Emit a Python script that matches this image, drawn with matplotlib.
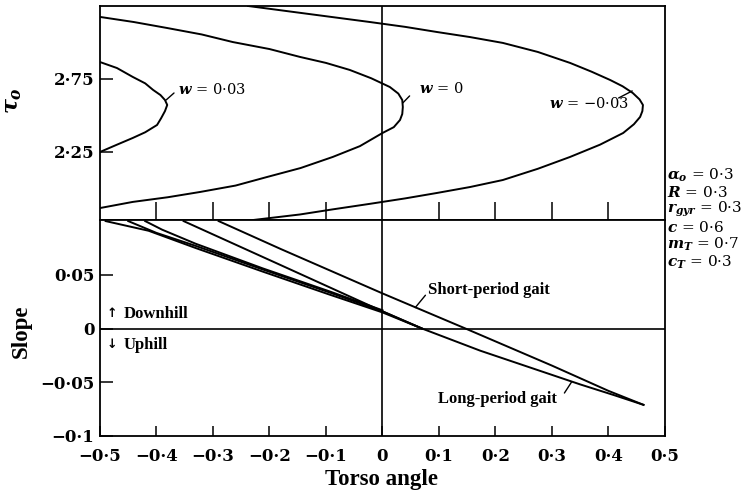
import numpy as np
import matplotlib
matplotlib.use("Agg")
import matplotlib.pyplot as plt

plt.rcParams["font.family"] = "Liberation Serif"
plt.rcParams["font.weight"] = "bold"
plt.rcParams["axes.labelweight"] = "bold"
plt.rcParams["mathtext.fontset"] = "dejavuserif"
plt.rcParams["axes.linewidth"] = 1.3

# ---- top panel: tau_o vs torso angle, one curve per w ----
w_pos_x = [-0.5, -0.47, -0.442, -0.42, -0.406, -0.393, -0.385, -0.381,
           -0.385, -0.392, -0.399, -0.42, -0.442, -0.47, -0.5]
w_pos_tau = [2.866, 2.825, 2.764, 2.72, 2.675, 2.64, 2.606, 2.572,
             2.53, 2.48, 2.435, 2.385, 2.346, 2.30, 2.25]

w_zero_x = [-0.5, -0.44, -0.381, -0.32, -0.265, -0.2, -0.146, -0.1, -0.058,
            -0.02, 0.013, 0.028, 0.035, 0.036, 0.035, 0.031, 0.02, 0.0,
            -0.04, -0.088, -0.145, -0.204, -0.26, -0.323, -0.38, -0.442, -0.5]
w_zero_tau = [3.175, 3.14, 3.099, 3.055, 3.003, 2.955, 2.901, 2.86, 2.812,
              2.755, 2.695, 2.65, 2.606, 2.558, 2.51, 2.469, 2.42, 2.380,
              2.29, 2.216, 2.14, 2.079, 2.02, 1.976, 1.94, 1.908, 1.866]

w_neg_x = [-0.238, -0.13, -0.022, 0.04, 0.096, 0.155, 0.213, 0.275, 0.332,
           0.37, 0.403, 0.425, 0.443, 0.455, 0.461, 0.46, 0.456, 0.445, 0.426,
           0.385, 0.332, 0.275, 0.213, 0.155, 0.096, 0.04, -0.022, -0.088,
           -0.146, -0.229]
w_neg_tau = [3.25, 3.195, 3.140, 3.107, 3.072, 3.037, 2.997, 2.935, 2.860,
             2.80, 2.743, 2.70, 2.654, 2.61, 2.572, 2.53, 2.490, 2.44, 2.380,
             2.30, 2.216, 2.135, 2.058, 2.01, 1.969, 1.932, 1.895, 1.857,
             1.822, 1.784]

# ---- bottom panel: slope vs torso angle ----
short_x = [-0.29, -0.18, 0.0, 0.147, 0.30, 0.40, 0.462]
short_s = [0.1, 0.074, 0.0327, 0.0, -0.0345, -0.058, -0.071]

long_x = [-0.352, -0.18, 0.0, 0.07, 0.173, 0.35, 0.41, 0.462]
long_s = [0.1, 0.059, 0.016, 0.0, -0.0206, -0.052, -0.062, -0.071]

band_a_x = [-0.49, -0.414, -0.331, -0.212, -0.096, 0.0, 0.07]
band_a_s = [0.1, 0.091, 0.075, 0.053, 0.032, 0.015, 0.0]
band_b_x = [-0.45, -0.40, -0.331, -0.212, -0.096, 0.0, 0.07]
band_b_s = [0.1, 0.089, 0.077, 0.055, 0.034, 0.016, 0.0]
band_c_x = [-0.42, -0.39, -0.331, -0.212, -0.096, 0.0]
band_c_s = [0.1, 0.092, 0.079, 0.056, 0.035, 0.017]

params = [r"$\alpha_o$ = 0·3", r"$R$ = 0·3", r"$r_{gyr}$ = 0·3",
          r"$c$ = 0·6", r"$m_T$ = 0·7", r"$c_T$ = 0·3"]

xticks = [-0.5, -0.4, -0.3, -0.2, -0.1, 0, 0.1, 0.2, 0.3, 0.4, 0.5]
xtick_labels = ["−0·5", "−0·4", "−0·3", "−0·2", "−0·1", "0",
                "0·1", "0·2", "0·3", "0·4", "0·5"]
tau_ticks = [2.25, 2.75]
tau_labels = ["2·25", "2·75"]
slope_ticks = [-0.1, -0.05, 0, 0.05]
slope_labels = ["−0·1", "−0·05", "0", "0·05"]

num_font = {"family": "DejaVu Serif", "weight": "bold", "size": 12}
note_font = {"family": "DejaVu Serif", "weight": "normal"}

fig = plt.figure(figsize=(7.53, 4.98), dpi=100)
ax1 = fig.add_axes([0.1328, 0.5582, 0.7503, 0.4298])
ax2 = fig.add_axes([0.1328, 0.1245, 0.7503, 0.4337])

lw = 1.4
for x, y in [(w_pos_x, w_pos_tau), (w_zero_x, w_zero_tau), (w_neg_x, w_neg_tau)]:
    ax1.plot(x, y, color="black", lw=lw)
ax1.axvline(0, color="black", lw=1.2)
ax1.set_xlim(-0.5, 0.5)
ax1.set_ylim(1.784, 3.25)
ax1.set_yticks(tau_ticks)
ax1.set_yticklabels(tau_labels, fontdict=num_font)
ax1.set_xticks([-0.4, -0.3, -0.2, -0.1, 0.1, 0.2, 0.3, 0.4])
ax1.tick_params(axis="x", direction="in", length=13, width=1.1, labelbottom=False)
ax1.tick_params(axis="y", direction="in", length=9, width=1.1, pad=4)
ax1.set_ylabel(r"$\tau_o$", fontsize=16)
ax1.yaxis.set_label_coords(-0.135, 0.56)

for x, y in [(short_x, short_s), (long_x, long_s), (band_a_x, band_a_s),
             (band_b_x, band_b_s), (band_c_x, band_c_s)]:
    ax2.plot(x, y, color="black", lw=lw)
ax2.axvline(0, color="black", lw=1.2)
ax2.axhline(0, color="black", lw=1.2)
ax2.set_xlim(-0.5, 0.5)
ax2.set_ylim(-0.1, 0.101)
ax2.set_xticks(xticks)
ax2.set_xticklabels(xtick_labels, fontdict=num_font)
ax2.set_yticks(slope_ticks)
ax2.set_yticklabels(slope_labels, fontdict=num_font)
ax2.tick_params(axis="x", direction="in", length=7, width=1.1, pad=8.5)
ax2.tick_params(axis="y", direction="in", length=9, width=1.1, pad=4)
ax2.set_ylabel("Slope", fontsize=16.5)
ax2.yaxis.set_label_coords(-0.12, 0.486)
fig.text(0.507, 0.038, "Torso angle", fontsize=16.5, ha="center", va="center")

# curve labels with short leader lines
leader = dict(arrowstyle="-", color="black", lw=1.0, shrinkA=0, shrinkB=0)
ax1.annotate("", xy=(-0.383, 2.606), xytext=(-0.369, 2.654), arrowprops=leader)
ax1.text(-0.362, 2.68, "$w$ = 0·03", fontsize=10.5, va="center", fontdict=note_font)
ax1.annotate("", xy=(0.036, 2.586), xytext=(0.048, 2.634), arrowprops=leader)
ax1.text(0.064, 2.688, "$w$ = 0", fontsize=10.5, va="center", fontdict=note_font)
ax1.annotate("", xy=(0.442, 2.668), xytext=(0.418, 2.62), arrowprops=leader)
ax1.text(0.294, 2.579, "$w$ = −0·03", fontsize=10.5, va="center", fontdict=note_font)

ax2.annotate("", xy=(0.058, 0.0195), xytext=(0.076, 0.031), arrowprops=leader)
ax2.text(0.081, 0.0355, "Short-period gait", fontsize=12, va="center")
ax2.annotate("", xy=(0.335, -0.0495), xytext=(0.322, -0.060), arrowprops=leader)
ax2.text(0.099, -0.0654, "Long-period gait", fontsize=12, va="center")

ax2.text(-0.479, 0.014, "↑", fontsize=9, ha="center", va="center",
         family="DejaVu Sans", weight="bold")
ax2.text(-0.459, 0.014, "Downhill", fontsize=12, va="center")
ax2.text(-0.479, -0.015, "↓", fontsize=9, ha="center", va="center",
         family="DejaVu Sans", weight="bold")
ax2.text(-0.459, -0.015, "Uphill", fontsize=12, va="center")

for i, p in enumerate(params):
    fig.text(0.886, 1 - (175 + 17.4 * i) / 498, p, fontsize=11, va="center",
             fontdict=note_font)

plt.savefig("out.png", dpi=100)
